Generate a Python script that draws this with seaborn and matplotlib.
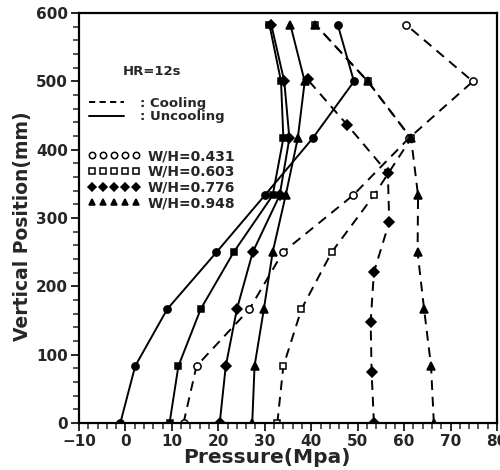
import matplotlib
matplotlib.use("Agg")
import matplotlib.pyplot as plt
from matplotlib.lines import Line2D
from matplotlib.ticker import MultipleLocator
import pandas as pd
import seaborn as sns

# Vertical positions of the measuring points (mm)
heights = [0, 83.3, 166.7, 250, 333.3, 416.7, 500, 583.3]
heights_776_cool = [0, 75, 148, 221, 294, 366, 436, 503]

# Pressure profiles (MPa), HR = 12 s
cool_431 = [12.5, 15.3, 26.7, 33.9, 49.0, 61.0, 74.8, 60.4]
cool_603 = [32.7, 34.0, 37.9, 44.4, 53.5, 61.5, 52.2, 40.9]
cool_776 = [53.5, 53.0, 52.8, 53.5, 56.8, 56.5, 47.8, 39.2]
cool_948 = [66.4, 65.8, 64.3, 62.9, 63.0, 61.5, 52.2, 40.9]

uncool_431 = [-1.1, 2.1, 9.0, 19.6, 30.0, 40.3, 49.2, 45.7]
uncool_603 = [9.5, 11.4, 16.2, 23.3, 31.7, 34.0, 33.5, 31.0]
uncool_776 = [20.3, 21.6, 24.0, 27.4, 33.2, 35.3, 34.2, 31.4]
uncool_948 = [27.3, 27.8, 29.8, 31.7, 34.5, 37.1, 38.6, 35.5]

ratios = ["0.431", "0.603", "0.776", "0.948"]
markers = {"0.431": "o", "0.603": "s", "0.776": "D", "0.948": "^"}
marker_sizes = {"0.431": 5.2, "0.603": 4.8, "0.776": 4.6, "0.948": 5.4}

series = [
    ("Cooling", "0.431", heights, cool_431),
    ("Cooling", "0.603", heights, cool_603),
    ("Cooling", "0.776", heights_776_cool, cool_776),
    ("Cooling", "0.948", heights, cool_948),
    ("Uncooling", "0.431", heights, uncool_431),
    ("Uncooling", "0.603", heights, uncool_603),
    ("Uncooling", "0.776", heights, uncool_776),
    ("Uncooling", "0.948", heights, uncool_948),
]

rows = []
for mode, ratio, ys, xs in series:
    for i, (x, y) in enumerate(zip(xs, ys)):
        rows.append({"mode": mode, "ratio": ratio, "pressure": x,
                     "height": y, "order": i})
df = pd.DataFrame(rows)

sns.set_style("ticks")
plt.rcParams["font.family"] = ["DejaVu Sans"]
plt.rcParams["xtick.direction"] = "out"
plt.rcParams["ytick.direction"] = "out"

fig = plt.figure(figsize=(5.0, 4.7), dpi=100)
ax = fig.add_axes([0.158, 0.1, 0.836, 0.872])

dash_style = (0, (5, 3.5))
for (mode, ratio), grp in df.groupby(["mode", "ratio"], sort=False):
    grp = grp.sort_values("order")
    open_face = mode == "Cooling" and ratio in ("0.431", "0.603")
    sns.lineplot(
        data=grp, x="pressure", y="height", ax=ax, sort=False,
        estimator=None, color="black", lw=1.4,
        linestyle=dash_style if mode == "Cooling" else "-",
        marker=markers[ratio], markersize=marker_sizes[ratio],
        markerfacecolor="white" if open_face else "black",
        markeredgecolor="black", markeredgewidth=1.1, legend=False,
    )

ax.set_xlim(-10, 80)
ax.set_ylim(0, 600)
ax.xaxis.set_major_locator(MultipleLocator(10))
ax.xaxis.set_minor_locator(MultipleLocator(2))
ax.yaxis.set_major_locator(MultipleLocator(100))
ax.yaxis.set_minor_locator(MultipleLocator(20))
ax.tick_params(which="major", length=6, width=1.4, labelsize=11, pad=2)
ax.tick_params(which="minor", length=4, width=1.1)
for lab in ax.get_xticklabels() + ax.get_yticklabels():
    lab.set_fontweight("bold")
for side in ["left", "bottom", "top", "right"]:
    ax.spines[side].set_visible(True)
    ax.spines[side].set_linewidth(1.6)
    ax.spines[side].set_color("black")

ax.set_xlabel("Pressure(Mpa)", fontsize=14.5, fontweight="bold")
ax.xaxis.set_label_coords(0.45, -0.06)
ax.set_ylabel("Vertical Position(mm)", fontsize=13.5, fontweight="bold")
ax.yaxis.set_label_coords(-0.112, 0.48)

ax.text(0.105, 0.857, "HR=12s", transform=ax.transAxes, fontsize=9.5,
        fontweight="bold", va="center", ha="left")

style_handles = [
    Line2D([], [], color="black", lw=1.4, linestyle=(0, (3.2, 2.2))),
    Line2D([], [], color="black", lw=1.4, linestyle="-"),
]
leg1 = ax.legend(style_handles, [": Cooling", ": Uncooling"],
                 loc="upper left", bbox_to_anchor=(0.025, 0.796),
                 frameon=False, fontsize=9.5, handlelength=2.6,
                 handletextpad=1.2, labelspacing=0.05, borderpad=0,
                 borderaxespad=0)
for t in leg1.get_texts():
    t.set_fontweight("bold")
ax.add_artist(leg1)

ratio_handles = []
for i, ratio in enumerate(ratios):
    ratio_handles.append(Line2D(
        [], [], color="black", linestyle="None", marker=markers[ratio],
        markersize=marker_sizes[ratio] - 0.6,
        markerfacecolor="white" if i < 2 else "black",
        markeredgecolor="black", markeredgewidth=1.1))
leg2 = ax.legend(ratio_handles, [f"W/H={r}" for r in ratios],
                 loc="upper left", bbox_to_anchor=(0.02, 0.668),
                 frameon=False, fontsize=10, numpoints=5, handlelength=3.8,
                 handletextpad=0.5, labelspacing=0.12, borderpad=0,
                 borderaxespad=0)
for t in leg2.get_texts():
    t.set_fontweight("bold")

fig.savefig("out.png", dpi=100)
